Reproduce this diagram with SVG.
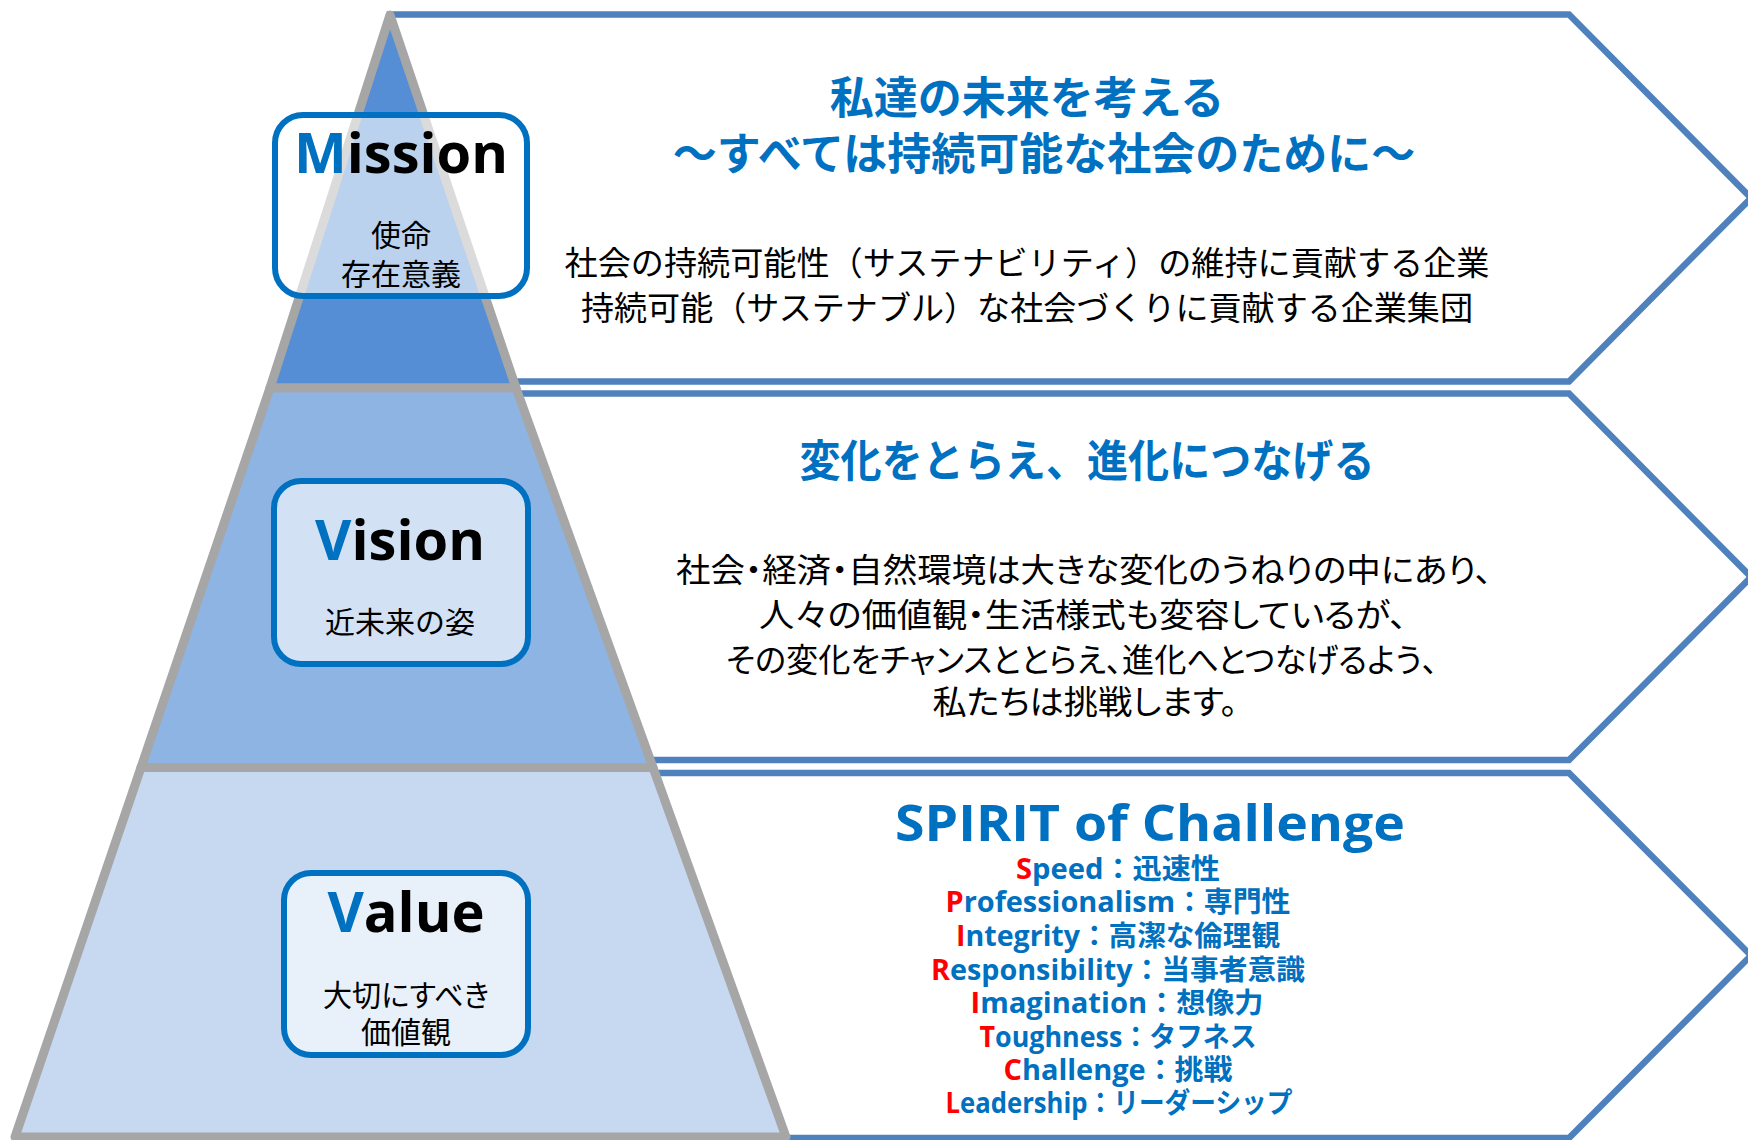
<svg xmlns="http://www.w3.org/2000/svg" width="1748" height="1140" viewBox="0 0 1748 1140">
<style>
.arrow{fill:#fff;stroke:#4F81BD;stroke-width:6.5;stroke-linejoin:miter}
.pyr{stroke:#A6A6A6;stroke-width:9;stroke-linejoin:round}
.box{fill:#fff;fill-opacity:0.6;stroke:#0070C0;stroke-width:6}
.lbl{font-family:"Open Sans","Noto Sans CJK JP",sans-serif;font-weight:700;font-size:56px;text-anchor:middle;fill:#000}
.b{fill:#0070C0}
.sub{font-family:"Noto Sans CJK JP",sans-serif;font-size:30px;text-anchor:middle;fill:#000}
.head{font-family:"Noto Sans CJK JP",sans-serif;font-weight:700;font-size:44px;text-anchor:middle;fill:#0070C0}
.body{font-family:"Noto Sans CJK JP",sans-serif;font-size:33px;text-anchor:middle;fill:#000}
.palt{font-feature-settings:"palt" 1}
.spirit{font-family:"Open Sans",sans-serif;font-weight:700;font-size:50px;text-anchor:middle;fill:#0070C0}
.li{font-family:"Open Sans","Noto Sans CJK JP",sans-serif;font-weight:700;font-size:28px;text-anchor:middle;fill:#0070C0}
.r{fill:#FF0000}
</style>

<g id="arrow-mission">
  <polygon class="arrow" points="390,14.5 1569,14.5 1751,198 1569,381.5 390,381.5"/>
</g>
<g id="arrow-vision">
  <polygon class="arrow" points="400,393.5 1569,393.5 1751,577 1569,760 400,760"/>
</g>
<g id="arrow-value">
  <polygon class="arrow" points="400,773 1569,773 1751,955.5 1569,1138 400,1138"/>
</g>

<g id="pyramid">
  <polygon id="pyr-top" class="pyr" fill="#558ED5" points="390,15 270,388 516,388"/>
  <polygon id="pyr-mid" class="pyr" fill="#8EB4E3" points="270,388 141,767.5 653,767.5 516,388"/>
  <polygon id="pyr-bot" class="pyr" fill="#C6D9F1" points="141,767.5 15,1137 786,1137 653,767.5"/>
</g>

<g id="connectors"></g>

<g id="mission-box">
  <rect class="box" x="275" y="115" width="252" height="181" rx="28"/>
  <text class="lbl" x="401" y="173" font-size="55"><tspan class="b">M</tspan>ission</text>
  <text class="sub" x="401" y="246">使命</text>
  <text class="sub" x="401" y="285">存在意義</text>
</g>

<g id="vision-box">
  <rect class="box" x="274" y="481" width="254" height="183" rx="27"/>
  <text class="lbl" x="400" y="560"><tspan class="b">V</tspan>ision</text>
  <text class="sub" x="400" y="633">近未来の姿</text>
</g>

<g id="value-box">
  <rect class="box" x="284" y="873" width="244" height="182" rx="27"/>
  <text class="lbl" x="406" y="932"><tspan class="b">V</tspan>alue</text>
  <text class="sub palt" x="406" y="1006" font-size="29" textLength="166" lengthAdjust="spacingAndGlyphs">大切にすべき</text>
  <text class="sub" x="406" y="1043" font-size="29">価値観</text>
</g>

<g id="mission-text">
  <text class="head" x="1027" y="114">私達の未来を考える</text>
  <text class="head" x="1044" y="170">～すべては持続可能な社会のために～</text>
  <text class="body" x="1027" y="275" textLength="925" lengthAdjust="spacingAndGlyphs">社会の持続可能性（サステナビリティ）の維持に貢献する企業</text>
  <text class="body" x="1027" y="320" textLength="892" lengthAdjust="spacingAndGlyphs">持続可能（サステナブル）な社会づくりに貢献する企業集団</text>
</g>

<g id="vision-text">
  <text class="head" x="1087" y="477" textLength="575" lengthAdjust="spacingAndGlyphs">変化をとらえ、進化につなげる</text>
  <text class="body palt" x="1084" y="582" textLength="816" lengthAdjust="spacingAndGlyphs">社会・経済・自然環境は大きな変化のうねりの中にあり、</text>
  <text class="body palt" x="1083" y="627" textLength="648" lengthAdjust="spacingAndGlyphs">人々の価値観・生活様式も変容しているが、</text>
  <text class="body palt" x="1082" y="672" textLength="712" lengthAdjust="spacingAndGlyphs">その変化をチャンスととらえ、進化へとつなげるよう、</text>
  <text class="body palt" x="1085" y="714" textLength="305" lengthAdjust="spacingAndGlyphs">私たちは挑戦します。</text>
</g>

<g id="value-text">
  <text class="spirit" x="1150" y="841" textLength="510" lengthAdjust="spacingAndGlyphs">SPIRIT of Challenge</text>
  <text class="li" x="1118" y="879" textLength="204" lengthAdjust="spacingAndGlyphs"><tspan class="r">S</tspan>peed：迅速性</text>
  <text class="li" x="1118" y="912" textLength="345" lengthAdjust="spacingAndGlyphs"><tspan class="r">P</tspan>rofessionalism：専門性</text>
  <text class="li" x="1118" y="946" textLength="324" lengthAdjust="spacingAndGlyphs"><tspan class="r">I</tspan>ntegrity：高潔な倫理観</text>
  <text class="li" x="1118" y="980" textLength="374" lengthAdjust="spacingAndGlyphs"><tspan class="r">R</tspan>esponsibility：当事者意識</text>
  <text class="li" x="1117" y="1013" textLength="293" lengthAdjust="spacingAndGlyphs"><tspan class="r">I</tspan>magination：想像力</text>
  <text class="li" x="1118" y="1047" textLength="277" lengthAdjust="spacingAndGlyphs"><tspan class="r">T</tspan>oughness：タフネス</text>
  <text class="li" x="1118" y="1080" textLength="229" lengthAdjust="spacingAndGlyphs"><tspan class="r">C</tspan>hallenge：挑戦</text>
  <text class="li" x="1119" y="1113" textLength="347" lengthAdjust="spacingAndGlyphs"><tspan class="r">L</tspan>eadership：リーダーシップ</text>
</g>
</svg>
